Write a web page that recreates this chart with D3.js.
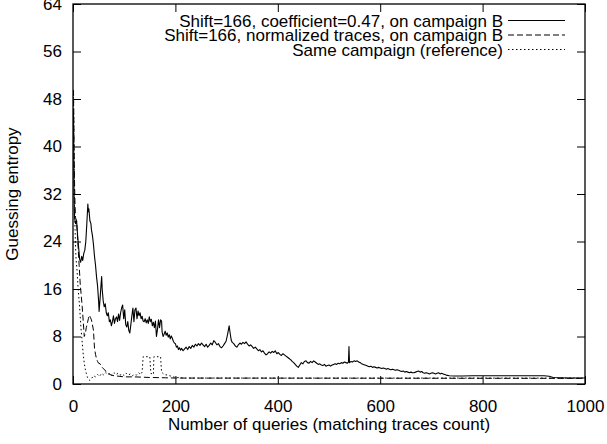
<!DOCTYPE html>
<html>
<head>
<meta charset="utf-8">
<script src="https://cdn.jsdelivr.net/npm/d3@7"></script>
<style>
  html, body { margin: 0; padding: 0; background: #fff; }
  svg { display: block; }
  text { font-family: "Liberation Sans", Arial, Helvetica, sans-serif; fill: #000; }
</style>
</head>
<body>
<svg id="chart" width="607" height="444"></svg>
<script>
// ---- data ----
const xTicks = [0, 200, 400, 600, 800, 1000];
const yTicks = [0, 8, 16, 24, 32, 40, 48, 56, 64];
const seriesNames = [
  "Shift=166, coefficient=0.47, on campaign B",
  "Shift=166, normalized traces, on campaign B",
  "Same campaign (reference)"
];
const xLabel = "Number of queries (matching traces count)";
const yLabel = "Guessing entropy";

const coefQueries = [1,2,3,5,7,9,11,13,15,17,19,21,23,25,27,29,30,31,33,35,36,38,40,42,44,46,48,50,51,53,55,56,57,59,61,63,65,67,69,71,73,75,77,79,81,83,85,87,89,91,93,95,97,99,101,103,105,107,109,111,113,115,117,119,121,123,125,127,129,131,133,135,137,139,141,143,145,147,149,151,153,155,157,159,161,163,165,167,169,171,173,174,176,178,180,182,184,186,188,190,192,194,196,198,200,202,204,206,208,210,212,215,218,221,224,227,230,233,236,239,242,245,248,251,254,257,260,263,266,269,272,275,278,281,284,287,290,293,296,299,302,305,307,309,311,314,317,320,323,326,329,332,335,338,341,344,347,350,353,356,359,362,365,368,371,374,377,380,383,386,389,392,395,398,401,404,407,410,413,416,419,422,425,428,431,434,437,440,443,446,449,452,455,458,461,464,467,470,473,476,479,482,485,488,491,494,497,500,503,506,509,512,515,518,521,524,527,530,533,536,538,539,540,543,546,549,552,555,558,561,564,567,570,573,576,579,582,585,588,591,594,597,600,603,606,609,612,615,618,621,624,627,630,633,636,639,642,645,648,651,654,657,660,663,666,669,672,675,678,681,684,687,690,693,696,699,702,705,708,711,714,717,720,723,726,729,735,745,760,780,800,820,840,860,880,900,920,930,938,950,970,1000];
const coefValues = [46,32,28,27,27.5,25,23,21,20.5,21.5,20.8,22,22.5,24,27,30.3,29,29.5,27.5,27,26,25,23.5,21.5,20,18,16.5,14,12.2,14.5,17,18.1,16,14,13,13.5,12,11.5,12,10.5,10.8,9.8,10.5,11.5,10.2,11,11.3,10.5,11.8,10.7,12,12.8,13.3,11,12.5,10,9.6,10.5,9,8.6,10,11.5,12.8,10.5,12.5,12.8,11,12.3,11.5,12,11,11.4,10.6,10.5,11,10.3,10.8,10.2,11.3,10.5,10.9,9.8,10.4,9.5,10.6,8,9.2,10.8,9.5,10.8,10.6,8.8,8,8.4,8.9,8.2,8.6,7.9,8.3,7.6,8.1,7.7,7.2,6.9,6.8,6.2,6.4,5.8,6.1,5.7,6.0,5.6,5.9,6.2,5.8,6.3,6.0,6.5,6.2,6.7,6.4,6.8,6.5,6.9,6.6,6.3,6.7,6.2,6.5,6.9,6.6,7.3,7.0,6.6,6.8,6.3,6.1,6.4,6.8,7.2,8.4,9.8,8.5,7.4,7.0,6.8,6.4,6.2,6.6,6.9,6.7,7.0,6.8,7.1,6.7,6.4,6.6,6.3,6.0,6.2,5.9,5.6,5.8,5.4,5.6,5.2,4.9,5.1,5.4,5.2,5.5,5.3,5.6,5.1,5.3,5.0,4.8,5.1,4.9,4.7,4.5,4.3,4.1,3.8,3.6,3.3,3.0,2.8,3.2,3.6,3.4,3.8,3.9,3.6,3.5,3.8,3.6,3.9,3.7,3.5,3.3,3.4,3.2,3.1,3.3,3.0,3.1,3.2,3.0,3.2,3.3,3.4,3.3,3.5,3.4,3.6,3.5,3.7,3.6,3.5,3.7,6.3,3.6,3.8,3.7,3.9,3.8,3.9,3.7,3.6,3.4,3.3,3.2,3.1,3.0,2.9,3.0,2.8,2.9,2.8,2.7,2.8,2.7,2.6,2.7,2.6,2.5,2.6,2.5,2.4,2.5,2.4,2.3,2.4,2.3,2.2,2.1,2.2,2.0,2.1,2.0,1.9,2.0,1.9,1.9,2.0,2.1,2.2,2.0,2.1,1.9,1.8,1.9,1.8,1.7,1.8,1.9,1.8,1.7,1.8,1.9,1.7,1.8,1.7,1.6,1.5,1.4,1.35,1.35,1.4,1.4,1.4,1.4,1.4,1.4,1.4,1.4,1.3,1.1,1.05,1.0,1.0];

const normQueries = [1,2,3,4,5,7,8,10,12,14,16,18,20,22,24,26,28,30,32,34,36,38,40,42,44,46,48,50,53,56,59,62,65,68,72,76,80,90,100,120,150,180,200,1000];
const normValues  = [49.5,40,34,30,28,27.5,26,23,20,17,15,13,10.5,8,8.5,9.5,10.2,11,11.6,11.2,10.8,10,9,6,5,4.2,3.8,3.5,3.4,2.9,2.6,2.4,2.0,1.8,1.6,1.5,1.4,1.3,1.2,1.2,1.1,1.05,1.0,0.95];

const refQueries = [1,2,3,4,5,6,8,10,12,14,16,18,20,22,24,26,28,30,33,36,40,44,48,52,56,60,64,68,72,76,80,84,88,92,96,100,104,108,112,116,120,124,128,132,135,137,150,152,157,158,171,173,178,185,192,200,220,1000];
const refValues  = [49,38,30,26,23,21,19,16,14,11.5,9,7,5,3.5,2.5,1.8,1.2,0.8,0.6,0.9,1.4,1.2,1.6,1.3,1.8,1.5,1.9,1.6,1.8,1.4,1.9,1.6,1.8,1.5,1.7,1.4,1.8,1.5,1.7,1.4,1.6,1.5,1.9,1.6,2.0,4.6,4.6,1.8,1.6,4.6,4.6,2.0,1.6,1.5,1.3,1.1,1.0,1.0];

// ---- layout ----
const L = 73, R = 585, T = 4, B = 384;
const FS = 17;
const svg = d3.select("#chart");
const x = d3.scaleLinear().domain([0, 1000]).range([L, R]);
const y = d3.scaleLinear().domain([0, 64]).range([B, T]);

svg.append("defs").append("clipPath").attr("id", "plotclip")
  .append("rect").attr("x", L).attr("y", T).attr("width", R - L).attr("height", B - T);

const styles = [
  { dash: null, width: 1.1 },
  { dash: "6,3", width: 1 },
  { dash: "1.5,2.5", width: 1 }
];
const series = [
  { q: coefQueries, v: coefValues },
  { q: normQueries, v: normValues },
  { q: refQueries, v: refValues }
];

const line = d3.line().x(d => x(d[0])).y(d => y(d[1]));
const plot = svg.append("g").attr("clip-path", "url(#plotclip)");
// draw reference first, then normalized, then coefficient on top
[2, 1, 0].forEach(i => {
  const s = series[i];
  const pts = s.q.map((q, k) => [q, s.v[k]]);
  plot.append("path").datum(pts)
    .attr("d", line)
    .attr("fill", "none")
    .attr("stroke", "#000")
    .attr("stroke-width", styles[i].width)
    .attr("stroke-linejoin", "round")
    .attr("stroke-dasharray", styles[i].dash);
});

// axes
function styleAxis(g) {
  g.select(".domain").remove();
  g.selectAll(".tick line").attr("stroke", "#000").attr("stroke-width", 1);
  g.selectAll(".tick text").attr("font-size", FS).attr("fill", "#000")
    .attr("font-family", '"Liberation Sans", Arial, sans-serif');
}
svg.append("g").attr("transform", `translate(0,${B})`)
  .call(d3.axisBottom(x).tickValues(xTicks).tickSize(-8).tickSizeOuter(0).tickPadding(15.5).tickFormat(d3.format("d")))
  .call(styleAxis);
svg.append("g").attr("transform", `translate(0,${T})`)
  .call(d3.axisTop(x).tickValues(xTicks).tickSize(-8).tickSizeOuter(0).tickFormat(""))
  .call(styleAxis);
svg.append("g").attr("transform", `translate(${L},0)`)
  .call(d3.axisLeft(y).tickValues(yTicks).tickSize(-8).tickSizeOuter(0).tickPadding(11).tickFormat(d3.format("d")))
  .call(styleAxis);
svg.append("g").attr("transform", `translate(${R},0)`)
  .call(d3.axisRight(y).tickValues(yTicks).tickSize(-8).tickSizeOuter(0).tickFormat(""))
  .call(styleAxis);

// border
svg.append("rect").attr("x", L).attr("y", T).attr("width", R - L).attr("height", B - T)
  .attr("fill", "none").attr("stroke", "#000").attr("stroke-width", 1.3);

// axis labels
svg.append("text").attr("x", (L + R) / 2).attr("y", 430)
  .attr("text-anchor", "middle").attr("font-size", FS).text(xLabel);
svg.append("text").attr("transform", `translate(18,${(T + B) / 2}) rotate(-90)`)
  .attr("text-anchor", "middle").attr("font-size", FS).text(yLabel);

// legend
const legRows = [20.5, 35, 49.5];
seriesNames.forEach((name, i) => {
  svg.append("text").attr("x", 503).attr("y", legRows[i]).attr("dy", "0.36em")
    .attr("text-anchor", "end").attr("font-size", FS).text(name);
  svg.append("line").attr("x1", 508).attr("x2", 565)
    .attr("y1", legRows[i]).attr("y2", legRows[i])
    .attr("stroke", "#000").attr("stroke-width", styles[i].width)
    .attr("stroke-dasharray", styles[i].dash);
});
</script>
</body>
</html>
